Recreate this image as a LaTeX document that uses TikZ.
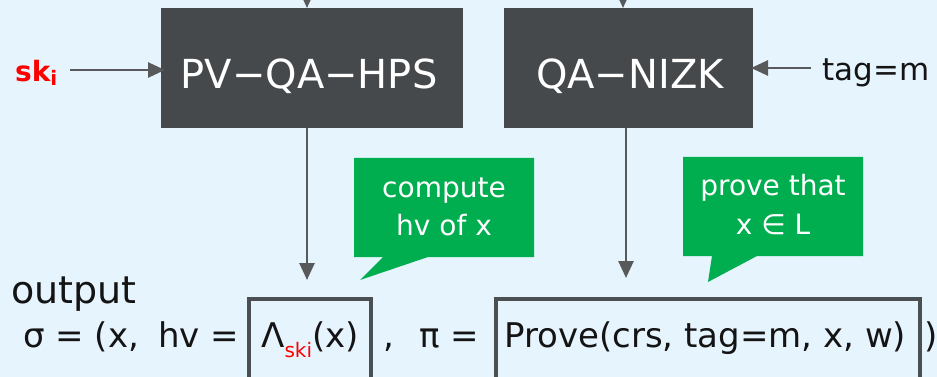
\documentclass[tikz,border=0pt]{standalone}
\usepackage{fontspec}
\setmainfont{DejaVu Sans}
\usetikzlibrary{arrows.meta}
\definecolor{bgblue}{HTML}{E6F4FE}
\definecolor{darkbox}{HTML}{45494C}
\definecolor{arrowgray}{HTML}{58595B}
\definecolor{callgreen}{HTML}{00AE50}
\definecolor{framegray}{HTML}{4B4F52}
\definecolor{skred}{HTML}{FF0000}
\definecolor{inkblack}{HTML}{141414}
\newcommand\fsz[1]{\fontsize{#1}{#1}\selectfont}
\tikzset{
  procbox/.style={fill=darkbox, draw=none, inner sep=0pt, outer sep=0pt, anchor=north west},
  boxlabel/.style={anchor=base, inner sep=0pt, text=white, font=\fsz{40}},
  arr/.style={draw=arrowgray, line width=2.6pt, -{Triangle[length=17pt,width=15pt]}},
  calltext/.style={anchor=base, inner sep=0pt, text=white, font=\fsz{28}},
  formula/.style={anchor=base west, inner sep=0pt, text=inkblack, font=\fsz{34}},
  outbox/.style={draw=framegray, line width=4pt, inner sep=0pt, outer sep=0pt, anchor=north west},
}
\begin{document}
\begin{tikzpicture}[x=1pt, y=-1pt]
  % canvas
  \fill[bgblue] (0,0) rectangle (937,377);
  \useasboundingbox (0,0) rectangle (937,377);

  % the two algorithm boxes
  \node[procbox, minimum width=302pt, minimum height=120pt] (hps) at (161,8) {};
  \node[procbox, minimum width=249pt, minimum height=120pt] (nizk) at (504,8) {};
  \node[boxlabel] (hpslabel) at (309,89) {PV−QA−HPS};
  \node[boxlabel] (nizklabel) at (630,89) {QA−NIZK};

  % inputs from above
  \coordinate (hpsin) at (307,-10);
  \coordinate (nizkin) at (623,-10);
  \draw[arr] (hpsin) -- (hpsin |- hps.north);
  \draw[arr] (nizkin) -- (nizkin |- nizk.north);

  % side inputs
  \node[anchor=base west, inner sep=0pt, text=skred, font=\bfseries\fsz{28}] (sk) at (15,82)
    {sk\raisebox{-4pt}{\fsz{20}i}};
  \coordinate (skout) at (70,70);
  \draw[arr, shorten >=-4pt] (skout) -- (skout -| hps.west);
  \node[anchor=base west, inner sep=0pt, text=inkblack, font=\fsz{31}] (tag) at (822,81) {tag=m};
  \coordinate (tagout) at (811,68);
  \draw[arr, shorten >=-2pt] (tagout) -- (tagout -| nizk.east);

  % outputs going down
  \coordinate (hvtip) at (307,280);
  \coordinate (pftip) at (626,278);
  \draw[arr] (hvtip |- hps.south) -- (hvtip);
  \draw[arr] (pftip |- nizk.south) -- (pftip);

  % speech bubbles
  \fill[callgreen] (354,158) -- (534,158) -- (534,257) -- (428,257) -- (360,280)
    -- (383,257) -- (354,257) -- cycle;
  \node[calltext] (c1a) at (444,197) {compute};
  \node[calltext] (c1b) at (444,235) {hv of x};
  \fill[callgreen] (683,157) -- (863,157) -- (863,256) -- (757,256) -- (708,282)
    -- (712,256) -- (683,256) -- cycle;
  \node[calltext] (c2a) at (773,195) {prove that};
  \node[calltext] (c2b) at (773,234) {x ∈ L};

  % output signature
  \node[anchor=base west, inner sep=0pt, text=inkblack, font=\fsz{38}] (out) at (11,303) {output};
  \node[formula] (sig) at (23,347) {σ = (x,};
  \node[formula] (hv) at (158,347) {hv =};
  \node[outbox, minimum width=122pt, minimum height=96pt] (hvbox) at (249,299) {};
  \node[formula, anchor=base] (lam) at (310,347)
    {Λ\raisebox{-10pt}{\color{skred}\fsz{20}ski}(x)};
  \node[formula] (comma) at (383,347) {,};
  \node[formula] (pi) at (419,347) {π =};
  \node[outbox, minimum width=424pt, minimum height=96pt] (pfbox) at (496,299) {};
  \node[formula] (prove) at (504,347) {Prove(crs, tag=m, x, w)};
  \node[formula] (close) at (924,347) {)};
\end{tikzpicture}
\end{document}
